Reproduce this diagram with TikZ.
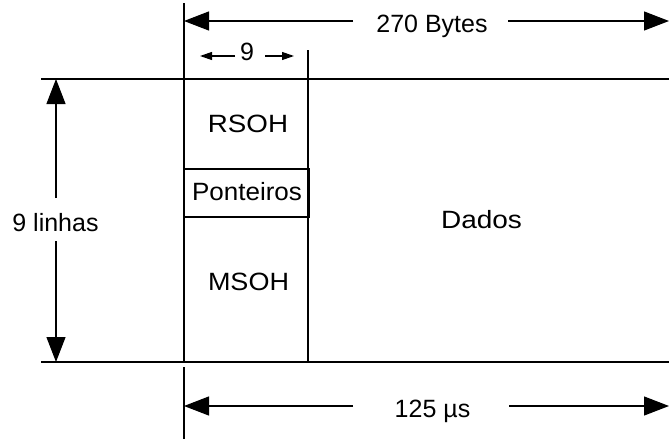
\documentclass[tikz,border=0pt]{standalone}
\usepackage{fontspec}
\usepackage{graphicx}
\setmainfont{Liberation Sans}
\usetikzlibrary{arrows.meta}
\begin{document}
\begin{tikzpicture}[x=1pt,y=-1pt,line width=1.2pt,
  lbl/.style={font=\fontsize{25}{30}\selectfont,inner sep=0pt,anchor=base},
  bigarrow/.style={-{Triangle[length=25pt,width=19pt]}},
  smallarrow/.style={-{Triangle[length=12pt,width=8pt]}}]
\useasboundingbox (0,0) rectangle (669,439);
% frame lines
\draw (41,79) -- (669,79);
\draw (41,362) -- (669,362);
\draw (184,3) -- (184,362);
\draw (184,367) -- (184,439);
\draw (308,50) -- (308,362);
% pointer box
\node[draw,line width=1.2pt,minimum width=125pt,minimum height=48pt] (pont) at (246.5,193) {};
% labels
\node[lbl] (pontlbl) at (247,200.7) {\scalebox{1.04}[1]{Ponteiros}};
\node[lbl] (rsoh) at (248,132) {\scalebox{1.11}[1]{RSOH}};
\node[lbl] (msoh) at (248.5,290) {\scalebox{1.08}[1]{MSOH}};
\node[lbl] (dados) at (481.5,228) {\scalebox{1.12}[1]{Dados}};
\node[lbl] (linhas) at (55.5,231) {9 linhas};
\node[lbl] (bytes) at (432,32) {270 Bytes};
\node[lbl] (nove) at (247,60) {9};
\node[lbl] (tempo) at (432.5,417) {125 µs};
% end points of dimension arrows
\coordinate (bl) at (184,21);
\coordinate (br) at (669,21);
\coordinate (bls) at (353,21);
\coordinate (brs) at (508,21);
\coordinate (nl) at (200,56);
\coordinate (nls) at (235,56);
\coordinate (nr) at (294,56);
\coordinate (nrs) at (265,56);
\coordinate (tl) at (184,406);
\coordinate (tr) at (669,406);
\coordinate (tls) at (353,406);
\coordinate (trs) at (509,406);
\coordinate (lt) at (56,79);
\coordinate (lb) at (56,362);
\coordinate (lts) at (56,198);
\coordinate (lbs) at (56,241);
% arrows
\draw[bigarrow] (bls) -- (bl);
\draw[bigarrow] (brs) -- (br);
\draw[smallarrow] (nls) -- (nl);
\draw[smallarrow] (nrs) -- (nr);
\draw[bigarrow] (tls) -- (tl);
\draw[bigarrow] (trs) -- (tr);
\draw[bigarrow] (lts) -- (lt);
\draw[bigarrow] (lbs) -- (lb);
\end{tikzpicture}
\end{document}
